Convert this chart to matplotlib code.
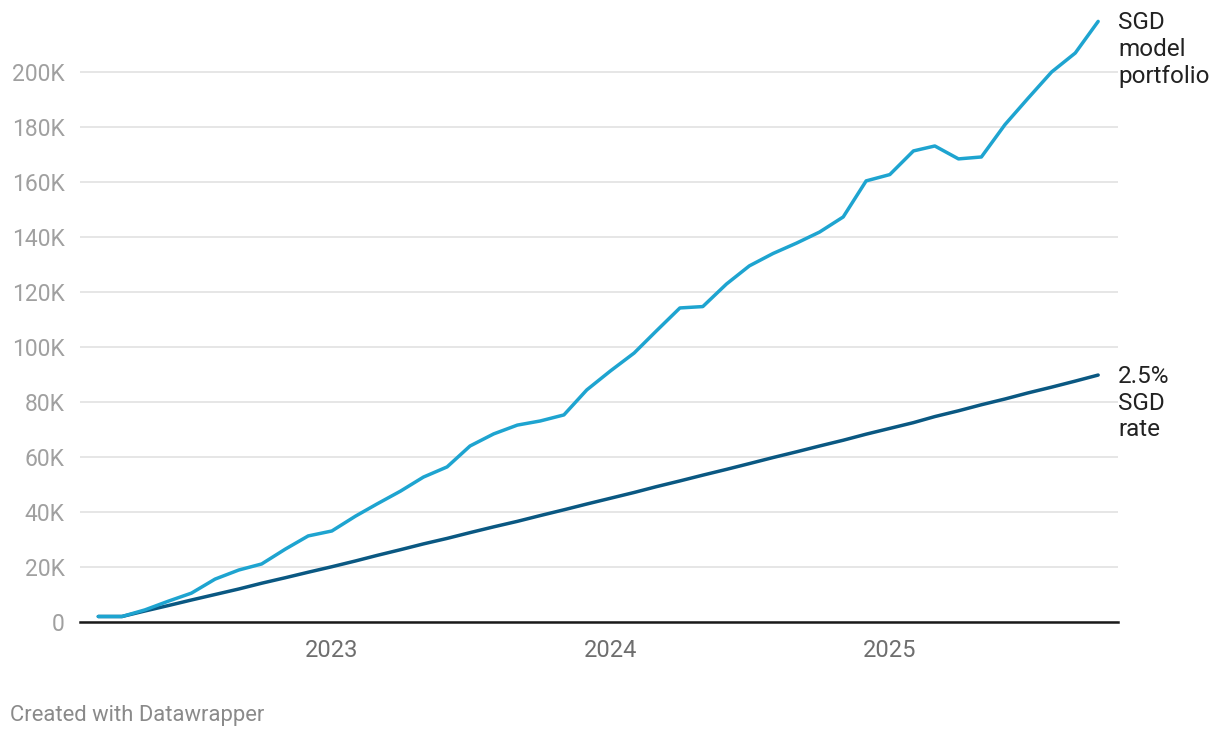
import datetime as dt
import matplotlib
matplotlib.use("Agg")
import matplotlib.pyplot as plt

plt.rcParams['font.family'] = ['Roboto', 'DejaVu Sans']

# monthly values, Mar 2022 .. Oct 2025, in thousands
start_year, start_month = 2022, 3
portfolio = [2.0, 2.0, 4.4, 7.6, 10.5, 15.6, 18.9, 21.1, 26.5, 31.3,
             33.1, 38.5, 42.9, 47.6, 52.7, 56.4, 64.0, 68.4, 71.6, 73.1,
             75.3, 84.4, 91.3, 97.8, 105.8, 114.2, 114.7, 122.9, 129.5, 134.0,
             137.8, 141.8, 147.3, 160.4, 162.7, 171.3, 173.1, 168.4, 169.1, 180.9,
             190.4, 200.0, 206.9, 218.4]
sgd_rate = [2.0, 2.0, 4.0, 6.0, 8.0, 10.0, 12.0, 14.1, 16.1, 18.1,
            20.1, 22.2, 24.2, 26.3, 28.4, 30.4, 32.5, 34.6, 36.6, 38.7,
            40.8, 42.9, 45.0, 47.1, 49.2, 51.3, 53.4, 55.5, 57.6, 59.8,
            61.9, 64.0, 66.1, 68.3, 70.4, 72.5, 74.7, 76.8, 79.0, 81.1,
            83.3, 85.4, 87.6, 89.8]
series_labels = ["SGD\nmodel\nportfolio", "2.5%\nSGD\nrate"]
y_ticks = [0, 20, 40, 60, 80, 100, 120, 140, 160, 180, 200]
x_tick_years = [2023, 2024, 2025]

dates = []
for i in range(len(portfolio)):
    m = start_month - 1 + i
    dates.append(dt.date(start_year + m // 12, m % 12 + 1, 1))

light = '#1ea4d0'
dark = '#0a5882'

fig = plt.figure(figsize=(12.2, 7.38), dpi=100)
ax = fig.add_axes([80 / 1220, 116 / 738, 1038 / 1220, 605 / 738])

ax.plot(dates, sgd_rate, color=dark, lw=2.5, solid_capstyle='round', zorder=3)
ax.plot(dates, portfolio, color=light, lw=2.5, solid_capstyle='round', zorder=4)

ax.set_ylim(0, 220)
ax.set_xlim(dates[0] - dt.timedelta(days=24), dates[-1] + dt.timedelta(days=26))

ax.set_yticks(y_ticks)
ax.set_yticklabels(['0' if v == 0 else f'{v}K' for v in y_ticks])
ax.set_xticks([dt.date(y, 1, 1) for y in x_tick_years])
ax.set_xticklabels([str(y) for y in x_tick_years])

ax.tick_params(axis='y', length=0, pad=11, labelsize=16.5, labelcolor='#a0a0a0')
ax.tick_params(axis='x', length=0, pad=12, labelsize=17, labelcolor='#6e6e6e')

ax.grid(axis='y', color='#e2e2e2', lw=1.2)
ax.set_axisbelow(True)
for s in ['top', 'right', 'left']:
    ax.spines[s].set_visible(False)
ax.spines['bottom'].set_color('#1a1a1a')
ax.spines['bottom'].set_linewidth(1.8)
ax.spines['bottom'].set_zorder(5)

for vals, lab in zip([portfolio, sgd_rate], series_labels):
    ax.annotate(lab, xy=(dates[-1], vals[-1]), xytext=(20, 10),
                textcoords='offset pixels', ha='left', va='top',
                fontsize=17.5, color='#222222', linespacing=1.2,
                annotation_clip=False)

fig.text(10 / 1220, 1 - 715 / 738, 'Created with Datawrapper', ha='left',
         va='center', fontsize=15.8, color='#8a8a8a')

fig.savefig('out.png', dpi=100)
